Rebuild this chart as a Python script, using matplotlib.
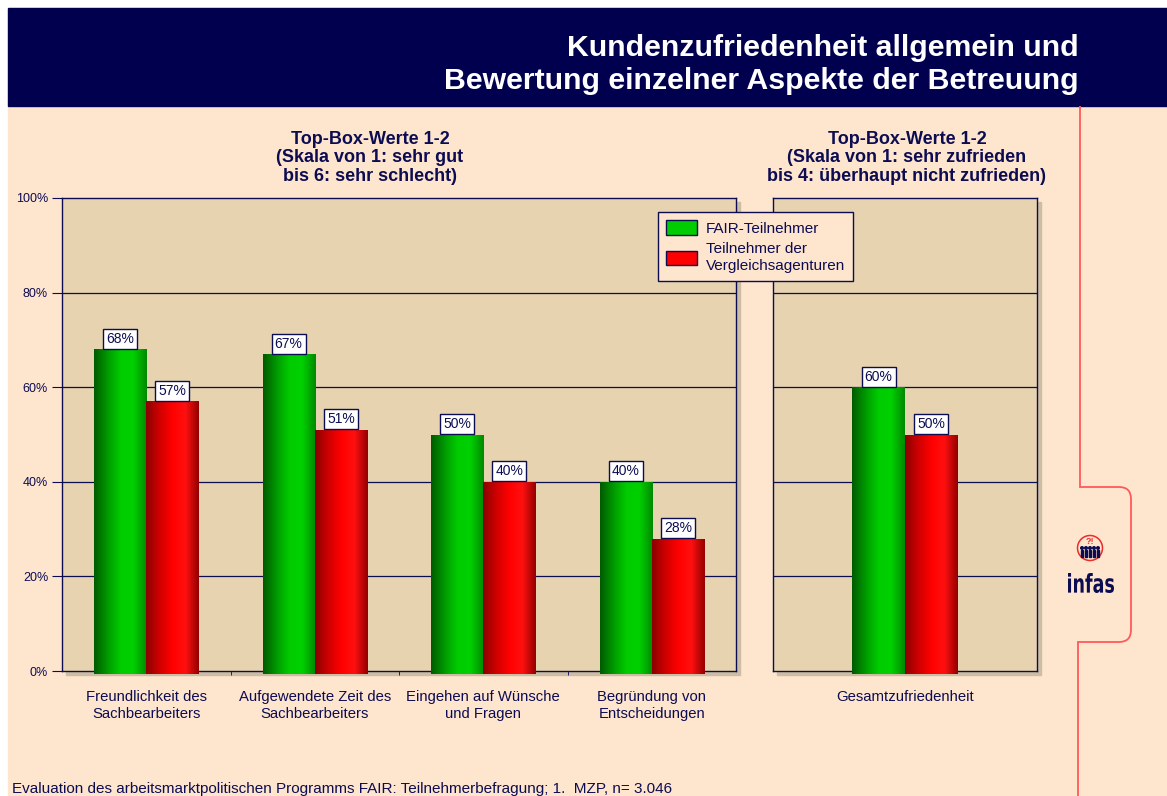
import numpy as np
import matplotlib
matplotlib.use("Agg")
import matplotlib.pyplot as plt
from matplotlib.patches import Rectangle, Patch, Ellipse, PathPatch
from matplotlib.path import Path
from matplotlib.textpath import TextPath
from matplotlib.font_manager import FontProperties
from matplotlib.colors import LinearSegmentedColormap

plt.rcParams['font.family'] = ['Liberation Sans', 'DejaVu Sans']

# data
categories = ["Freundlichkeit des\nSachbearbeiters", "Aufgewendete Zeit des\nSachbearbeiters",
              "Eingehen auf Wünsche\nund Fragen", "Begründung von\nEntscheidungen"]
fair = [68, 67, 50, 40]
vergleich = [57, 51, 40, 28]
gesamt_cat = ["Gesamtzufriedenheit"]
gesamt_fair = [60]
gesamt_vergleich = [50]
yticks = [0, 20, 40, 60, 80, 100]
series_names = ["FAIR-Teilnehmer", "Teilnehmer der\nVergleichsagenturen"]

W, H = 1167, 796
navy = '#0c0c52'
peach = '#fee5ce'
tan = '#e7d3af'
green_cm = LinearSegmentedColormap.from_list('g', ['#005c00', '#009900', '#00cc00', '#00d000', '#008a00'])
red_cm = LinearSegmentedColormap.from_list('r', ['#8c0000', '#d00000', '#ff0000', '#ff1010', '#950000'])

fig = plt.figure(figsize=(W / 100, H / 100), dpi=100, facecolor='white')

def fx(px):
    return px / W

def fy(py):
    return 1 - py / H

# page background + header band
fig.patches.append(Rectangle((fx(8), 0), 1, fy(8), transform=fig.transFigure, color=peach, zorder=-10))
fig.patches.append(Rectangle((fx(8), fy(106)), 1, (106 - 8) / H, transform=fig.transFigure, color='#00004f', zorder=-9))
fig.text(fx(1079), fy(48), "Kundenzufriedenheit allgemein und", ha='right', va='center',
         color='white', fontsize=21.8, fontweight='bold')
fig.text(fx(1079), fy(81), "Bewertung einzelner Aspekte der Betreuung", ha='right', va='center',
         color='white', fontsize=21.8, fontweight='bold')

# shadows behind the plot frames
for (x0, x1) in [(62, 736), (773, 1037)]:
    fig.patches.append(Rectangle((fx(x0 + 4), fy(675)), fx(x1 - x0), (671 - 198) / H,
                                 transform=fig.transFigure, color='#cdbda3', zorder=-5))

ax1 = fig.add_axes([fx(62), fy(671), fx(674), (671 - 198) / H])
ax2 = fig.add_axes([fx(773), fy(671), fx(264), (671 - 198) / H])


def gradient_bars(ax, xs, vals, width, cmap):
    bars = ax.bar(xs, vals, width=width, color='none', edgecolor='none', zorder=3)
    grad = np.linspace(0, 1, 64).reshape(1, -1)
    for b in bars:
        x, y = b.get_x(), b.get_y()
        w, h = b.get_width(), b.get_height()
        im = ax.imshow(grad, cmap=cmap, extent=(x, x + w, y - 0.6, y + h), aspect='auto',
                       zorder=3, interpolation='bilinear')
        im.set_clip_path(Rectangle((x, y - 0.6), w, h + 0.6, transform=ax.transData))
    return bars


def value_labels(ax, xs, vals):
    for x, v in zip(xs, vals):
        ax.annotate("%d%%" % v, (x, v), xytext=(0, 2.5), textcoords='offset points',
                    ha='center', va='bottom', fontsize=10, color=navy, zorder=6,
                    bbox=dict(boxstyle='square,pad=0.22', fc='white', ec=navy, lw=1))


def style_axes(ax, n):
    ax.set_facecolor(tan)
    ax.set_xlim(0, n)
    ax.set_ylim(0, 100)
    for s in ax.spines.values():
        s.set_color(navy)
        s.set_linewidth(1)
    ax.set_yticks(yticks)
    for t in yticks[1:-1]:
        ax.axhline(t, color=navy, lw=0.9, zorder=1)
    ax.set_xticks(np.arange(n) + 0.5)
    ax.tick_params(axis='x', length=0, pad=14, labelsize=10.7, labelcolor=navy)
    ax.set_xticks(np.arange(1, n), minor=True)
    ax.tick_params(axis='x', which='minor', length=3, color=navy, direction='out')


# left panel: Top-Box 1-2 of 6 point scale
style_axes(ax1, len(categories))
xs = np.arange(len(categories)) + 0.5
gradient_bars(ax1, xs - 0.155, fair, 0.31, green_cm)
gradient_bars(ax1, xs + 0.155, vergleich, 0.31, red_cm)
value_labels(ax1, xs - 0.155, fair)
value_labels(ax1, xs + 0.155, vergleich)
ax1.set_xticklabels(categories)
ax1.set_yticklabels(["%d%%" % t for t in yticks])
ax1.tick_params(axis='y', length=7, color=navy, pad=3, labelsize=9, labelcolor=navy)
ax1.set_xlim(0, len(categories))
ax1.set_ylim(0, 100)

# right panel: overall satisfaction
style_axes(ax2, len(gesamt_cat))
xs2 = np.arange(len(gesamt_cat)) + 0.5
gradient_bars(ax2, xs2 - 0.1, gesamt_fair, 0.2, green_cm)
gradient_bars(ax2, xs2 + 0.1, gesamt_vergleich, 0.2, red_cm)
value_labels(ax2, xs2 - 0.1, gesamt_fair)
value_labels(ax2, xs2 + 0.1, gesamt_vergleich)
ax2.set_xticklabels(gesamt_cat)
ax2.tick_params(axis='y', length=0, labelleft=False)
ax2.set_xlim(0, len(gesamt_cat))
ax2.set_ylim(0, 100)

# panel headings
fig.text(fx(370), fy(158), "Top-Box-Werte 1-2\n(Skala von 1: sehr gut\nbis 6: sehr schlecht)",
         ha='center', va='center', fontsize=13, fontweight='bold', color=navy, linespacing=1.13)
fig.text(fx(907), fy(158), "Top-Box-Werte 1-2\n(Skala von 1: sehr zufrieden\nbis 4: überhaupt nicht zufrieden)",
         ha='center', va='center', fontsize=13, fontweight='bold', color=navy, linespacing=1.13)

# legend
handles = [Patch(fc='#00cc00', ec=navy, lw=1), Patch(fc='#ff0000', ec=navy, lw=1)]
leg = fig.legend(handles, series_names, loc='upper left', bbox_to_anchor=(fx(650), fy(204)),
                 fontsize=11, frameon=True, fancybox=False, facecolor=peach, edgecolor=navy,
                 framealpha=1, handlelength=2.0, handleheight=1.1, labelspacing=0.45,
                 borderpad=0.55, handletextpad=0.6, borderaxespad=0.5)
leg.get_frame().set_linewidth(1)
for t in leg.get_texts():
    t.set_color(navy)
leg.set_zorder(10)

# footer
fig.text(fx(12), fy(789), "Evaluation des arbeitsmarktpolitischen Programms FAIR: Teilnehmerbefragung; 1.  MZP, n= 3.046",
         ha='left', va='center', fontsize=11, color=navy)

# red tab line at right side
verts = [(1080, 106), (1080, 487), (1119, 487), (1131, 487), (1131, 499), (1131, 630),
         (1131, 642), (1119, 642), (1078, 642), (1078, 796)]
codes = [Path.MOVETO, Path.LINETO, Path.LINETO, Path.CURVE3, Path.CURVE3, Path.LINETO,
         Path.CURVE3, Path.CURVE3, Path.LINETO, Path.LINETO]
tab = Path([(fx(x), fy(y)) for x, y in verts], codes)
fig.patches.append(PathPatch(tab, transform=fig.transFigure, fc='none', ec='#ff5a5a', lw=1.3))

# infas logo
fig.patches.append(Ellipse((fx(1090), fy(548)), 25 / W, 25 / H, transform=fig.transFigure,
                           fc='none', ec='#ee2a2a', lw=1.1))
fig.text(fx(1090), fy(541), "?!", ha='center', va='center', fontsize=6.5, color='#ee2a2a', fontweight='bold')
for dx in [-8, -4, 0, 4, 8]:
    fig.patches.append(Ellipse((fx(1090 + dx), fy(548)), 2.6 / W, 2.6 / H, transform=fig.transFigure, color=navy))
    fig.patches.append(Rectangle((fx(1090 + dx - 0.9), fy(557)), fx(1.8), 7.5 / H,
                                 transform=fig.transFigure, color=navy))
tp = TextPath((0, 0), "infas", size=10, prop=FontProperties(family='DejaVu Sans', weight='bold'))
ext = tp.get_extents()
sx, sy = 46 / ext.width, 20 / ext.height
logo_verts = [(fx(1068 + (x - ext.x0) * sx), fy(593 - (y - ext.y0) * sy)) for x, y in tp.vertices]
fig.patches.append(PathPatch(Path(logo_verts, tp.codes), transform=fig.transFigure, fc=navy, ec='none'))

fig.savefig("out.png", dpi=100, facecolor=fig.get_facecolor())
